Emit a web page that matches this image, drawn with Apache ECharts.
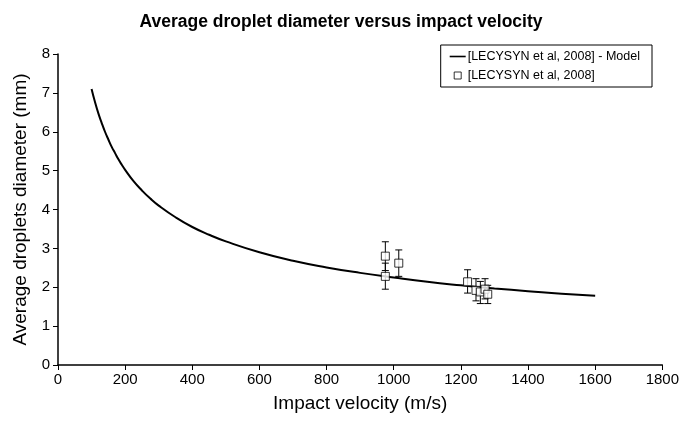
<!DOCTYPE html>
<html>
<head>
<meta charset="utf-8">
<script src="https://cdn.jsdelivr.net/npm/echarts@6/dist/echarts.min.js"></script>
<style>
html,body{margin:0;padding:0;background:#fff;}
#c{width:682px;height:425px;}
</style>
</head>
<body>
<div id="c"></div>
<script>
// Model curve
const modelVelocity = [100,110,120,130,140,150,160,170,180,190,200,225,250,275,300,350,400,450,500,600,700,800,900,1000,1100,1200,1300,1400,1500,1600];
const modelDiameter = [7.10,6.77,6.48,6.23,6.00,5.80,5.61,5.45,5.29,5.15,5.02,4.73,4.49,4.28,4.10,3.80,3.55,3.35,3.18,2.90,2.68,2.51,2.37,2.25,2.14,2.05,1.97,1.90,1.83,1.78];
// Experimental points with error bars
const expVelocity = [975, 975, 1015, 1220, 1245, 1258, 1272, 1280];
const expDiameter = [2.80, 2.28, 2.62, 2.14, 1.92, 1.88, 1.95, 1.82];
const expLow =      [2.43, 1.95, 2.28, 1.85, 1.65, 1.58, 1.70, 1.58];
const expHigh =     [3.17, 2.62, 2.96, 2.45, 2.22, 2.15, 2.22, 2.05];
const xTicks = [0,200,400,600,800,1000,1200,1400,1600,1800];
const yTicks = [0,1,2,3,4,5,6,7,8];

const modelName = '[LECYSYN et al, 2008] - Model';
const expName = '[LECYSYN et al, 2008]';
const font = 'Liberation Sans, Arial, sans-serif';

const chart = echarts.init(document.getElementById('c'), null, {renderer:'canvas'});
chart.setOption({
  animation:false,
  backgroundColor:'#fff',
  title:{
    text:'Average droplet diameter versus impact velocity',
    left:'center', top:8,
    textStyle:{fontFamily:font, fontSize:17.5, fontWeight:'bold', color:'#000'}
  },
  legend:{
    orient:'vertical', right:30, top:45,
    itemWidth:16, itemHeight:7, itemGap:6,
    padding:[5,12,5,9],
    borderColor:'#000', borderWidth:1,
    symbolKeepAspect:true,
    textStyle:{fontFamily:font, fontSize:12.5, color:'#000', padding:[0,0,0,-3]},
    data:[
      {name:modelName, icon:'path://M0,0 L16,0 L16,1.6 L0,1.6 Z', itemStyle:{color:'#000', borderWidth:0}},
      {name:expName, icon:'path://M0,0 L7,0 L7,7 L0,7 Z', itemStyle:{color:'#fff', borderColor:'#000', borderWidth:1}}
    ]
  },
  grid:{left:58, right:17, top:54, bottom:60},
  xAxis:{
    type:'value', min:0, max:1800, interval:200,
    name:'Impact velocity (m/s)', nameLocation:'middle', nameGap:29,
    nameTextStyle:{fontFamily:font, fontSize:19, color:'#000'},
    axisLine:{show:true, lineStyle:{color:'#000', width:1.5}},
    axisTick:{show:true, length:5, lineStyle:{color:'#000'}},
    axisLabel:{fontFamily:font, fontSize:15, color:'#000', margin:7,
      formatter:v=>xTicks.includes(v)?String(v):''},
    splitLine:{show:false}
  },
  yAxis:{
    type:'value', min:0, max:8, interval:1,
    name:'Average droplets diameter (mm)', nameLocation:'middle', nameGap:27,
    nameTextStyle:{fontFamily:font, fontSize:19, color:'#000'},
    axisLine:{show:true, lineStyle:{color:'#000', width:1.5}},
    axisTick:{show:true, length:5, lineStyle:{color:'#000'}},
    axisLabel:{fontFamily:font, fontSize:15, color:'#000', margin:8,
      formatter:v=>yTicks.includes(v)?String(v):''},
    splitLine:{show:false}
  },
  series:[
    {
      name:modelName, type:'line', smooth:true, showSymbol:false, symbol:'none',
      lineStyle:{color:'#000', width:2},
      itemStyle:{color:'#000'},
      data:modelVelocity.map((v,i)=>[v, modelDiameter[i]]),
      z:3
    },
    {
      name:'errors', type:'custom',
      data:expVelocity.map((v,i)=>[v, expLow[i], expHigh[i]]),
      renderItem:function(params, api){
        const top = api.coord([api.value(0), api.value(2)]);
        const bot = api.coord([api.value(0), api.value(1)]);
        const hw = 3.5;
        const st = {stroke:'#000', lineWidth:1};
        return {type:'group', children:[
          {type:'line', shape:{x1:top[0], y1:top[1], x2:bot[0], y2:bot[1]}, style:st},
          {type:'line', shape:{x1:top[0]-hw, y1:top[1], x2:top[0]+hw, y2:top[1]}, style:st},
          {type:'line', shape:{x1:bot[0]-hw, y1:bot[1], x2:bot[0]+hw, y2:bot[1]}, style:st}
        ]};
      },
      z:4
    },
    {
      name:expName, type:'scatter', symbol:'rect', symbolSize:8,
      itemStyle:{color:'#fff', borderColor:'#000', borderWidth:1},
      data:expVelocity.map((v,i)=>[v, expDiameter[i]]),
      z:5
    }
  ]
});
</script>
</body>
</html>
